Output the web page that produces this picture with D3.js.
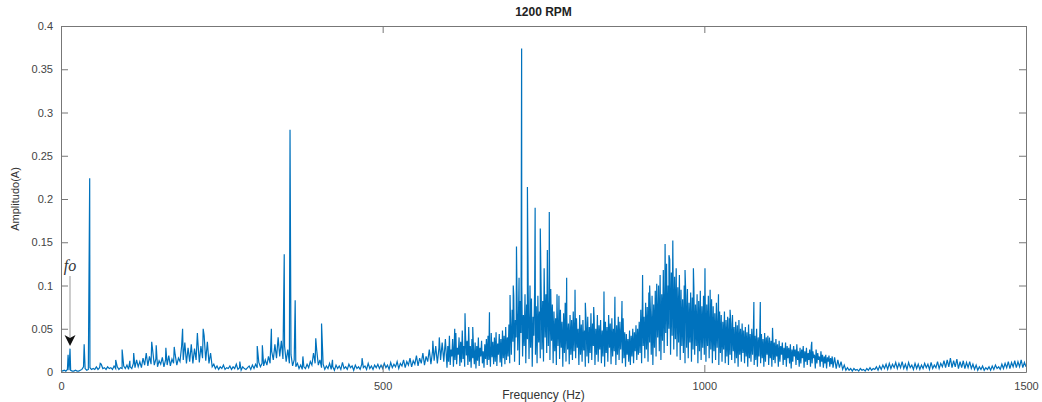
<!DOCTYPE html>
<html lang="en">
<head>
  <meta charset="UTF-8">
  <title>1200 RPM</title>
  <script src="https://d3js.org/d3.v7.min.js"></script>
  <style>
    body { margin: 0; background: #fff; }
    svg text { font-family: "Liberation Sans", Arial, Helvetica, sans-serif; }
  </style>
</head>
<body>
  <svg width="1042" height="402" id="spectrum"></svg>
  <script>
    // amplitude in mA, one array per 100 Hz block
    // coarse blocks: a value every 2.5 Hz, dense middle blocks: every 1.25 Hz
    var amp0 = [2,1,2,1,3,2,2,1,1,2,1,1,2,3,6,4,2,3,5,3,4,3,6,3,5,9,4,5,3,6,4,5,3,7,4,6,3,5,4,7]
    var amp100 = [4,8,3,6,4,10,5,14,6,12,5,16,8,22,7,18,9,25,8,15,6,13,9,17,6,14,8,19,7,15,10,20,8,16,12,30,14,34,10,28]
    var amp200 = [12,32,10,27,14,38,11,30,16,42,13,35,10,22,6,9,4,7,3,6,4,8,3,5,4,7,3,6,4,9,3,5,2,6,4,3,5,7,3,8]
    var amp300 = [4,9,5,11,6,10,7,14,8,18,10,24,14,32,16,40,18,36,15,30,12,26,10,20,7,14,6,10,4,8,3,6,4,9,5,12,8,22,10,25]
    var amp400 = [8,14,5,9,3,7,4,10,3,6,2,8,4,7,3,11,4,6,3,9,5,7,2,8,4,6,3,9,5,7,3,10,4,7,3,8,5,9,4,8]
    var amp500 = [4,10,5,8,3,11,5,9,6,12,4,10,7,14,5,12,8,16,6,13,9,19,7,16,10,22,8,18,12,26,9,24,13,30,10,28,14,34,12,38]
    var amp600 = [5,30,12,42,8,26,18,38,6,33, 14,45,9,28,20,40,7,35,11,48, 15,30,6,44,19,36,8,52,12,30, 5,38,16,26,9,34,4,30,13,40,
      7,28,18,36,10,24,5,32,15,38, 8,42,14,30,6,45,17,35,9,40, 12,46,7,33,20,44,11,38,6,48, 16,42,9,52,14,40,18,55,10,58]
    var amp700 = [20,72,35,88,12,60,40,95,25,70, 8,82,45,100,18,66,30,90,10,78, 38,92,15,70,28,85,6,64,42,96, 20,76,10,88,34,70,16,98,26,82,
      12,105,40,90,22,112,30,85,14,96, 36,78,10,70,24,62,8,74,30,66, 15,72,28,58,6,68,22,80,12,62, 26,56,9,66,20,60,14,70,24,64]
    var amp800 = [16,62,28,50,8,66,20,55,12,60, 25,48,6,58,18,64,10,52,22,68, 14,56,30,62,8,50,20,66,12,54, 26,60,10,48,18,64,6,58,22,52,
      12,66,28,56,9,62,18,50,24,60, 8,54,20,64,14,58,26,52,10,62, 16,46,6,44,20,38,12,48,8,42, 18,50,10,46,24,54,14,50,20,58]
    var amp900 = [22,72,10,86,30,64,16,80,26,75, 12,92,34,70,20,88,8,78,28,94, 18,84,40,100,24,112,14,90,36,118, 22,108,45,125,30,100,50,130,20,115,
      42,128,26,110,38,120,18,98,34,112, 14,95,30,84,22,100,10,88,28,96, 16,80,34,92,12,86,26,98,20,78, 30,90,10,82,24,94,14,76,28,88]
    var amp1000 = [20,92,12,78,30,88,16,72,26,84, 10,76,24,68,14,80,28,62,8,70, 22,66,12,58,26,70,10,60,18,64, 8,62,20,56,14,66,24,52,10,58,
      16,54,6,60,20,50,12,56,22,48, 10,52,18,46,6,55,16,44,12,50, 20,48,8,42,14,50,6,40,18,46, 10,44,16,38,6,45,12,40,20,42]
    var amp1100 = [8,40,16,36,6,46,14,34,10,38, 18,32,6,36,12,30,20,34,8,28, 14,34,6,30,16,28,10,32,4,26, 12,30,18,26,8,32,14,24,6,28,
      10,26,16,30,5,24,12,28,8,22, 14,26,6,30,10,24,16,20,4,26, 10,22,14,18,6,24,12,20,5,18, 10,20,4,17,12,19,6,16,9,18]
    var amp1200 = [5,17,4,14,5,12,3,8,2,5,2,4,1,4,2,3,1,4,2,3,1,4,2,5,2,4,3,6,2,7,3,8,4,9,3,10,4,9,5,11]
    var amp1300 = [4,10,5,12,4,9,3,11,5,8,3,10,4,9,3,8,4,10,5,9,3,11,4,8,5,12,4,10,6,13,5,14,6,16,5,13,6,15,4,12]
    var amp1400 = [5,13,4,11,5,12,4,9,3,8,2,6,3,7,2,5,3,6,2,7,3,8,4,6,3,9,4,10,5,12,4,11,6,13,5,12,6,14,5,11,6]

    // narrow lines: [frequency Hz, amplitude mA]
    var spikes = [[11,20],[14,27],[36,32],[44.6,224],[61,10],[85,14],[95,26],[107,13],[113,22],[141,35],[148,31],[163,28],
      [176,29],[189,50],[212,45],[221,50],[278,12],[305,30],[313,31],[327,50],[347,136],[356,280],[364,83],[376,18],
      [396,39],[405,56],[422,14],[468,16],[578,36],[588,40],[612,50],[628,68],[640,52],[666,69],[698,89],[703,100],
      [708,145],[712,109],[716,374],[725,214],[729,100],[737,190],[745,166],[751,120],[756,141],[759,185],[771,90],
      [774,88],[786,109],[799,95],[815,80],[828,75],[844,93],[861,87],[872,82],[904,112],[915,100],[926,102],[939,148],
      [945,135],[951,152],[970,118],[983,120],[1001,120],[1009,95],[1022,90],[1040,72],[1077,81],[1087,81],[1106,51],[1167,35]]

    var blocks = [amp0, amp100, amp200, amp300, amp400, amp500, amp600, amp700, amp800, amp900, amp1000, amp1100, amp1200, amp1300, amp1400]
    var blockStep = [2.5, 2.5, 2.5, 2.5, 2.5, 2.5, 1.25, 1.25, 1.25, 1.25, 1.25, 1.25, 2.5, 2.5, 2.5]
    var xTicks = [0, 500, 1000, 1500]
    var yTicks = [0, 0.05, 0.1, 0.15, 0.2, 0.25, 0.3, 0.35, 0.4]

    var data = []
    blocks.forEach(function (arr, b) {
      arr.forEach(function (v, i) { data.push([b * 100 + i * blockStep[b], v / 1000]) })
    })
    spikes.forEach(function (s) { data.push([s[0], s[1] / 1000]) })
    data.sort(function (a, b) { return a[0] - b[0] })

    var svg = d3.select("#spectrum")
    var mLeft = 61, mRight = 1026, mTop = 26, mBottom = 372
    var width = mRight - mLeft, height = mBottom - mTop

    var xScale = d3.scaleLinear().domain([0, 1500]).range([0, width])
    var yScale = d3.scaleLinear().domain([0, 0.4]).range([height, 0])

    var g = svg.append("g").attr("transform", "translate(" + mLeft + "," + mTop + ")")

    var line = d3.line()
      .x(function (d) { return xScale(d[0]) })
      .y(function (d) { return yScale(d[1]) })

    g.append("path")
      .datum(data)
      .attr("d", line)
      .style("fill", "none")
      .style("stroke", "#0072BD")
      .style("stroke-width", 1.2)

    function fmt(d) { return String(+d.toFixed(2)) }

    // axes, ticks pointing inwards like matlab
    var xb = g.append("g").attr("transform", "translate(0," + height + ")")
      .call(d3.axisBottom(xScale).tickValues(xTicks).tickSizeInner(-7).tickSizeOuter(0).tickPadding(8).tickFormat(fmt))
    var xt = g.append("g")
      .call(d3.axisTop(xScale).tickValues(xTicks).tickSizeInner(-7).tickSizeOuter(0).tickFormat(""))
    var yl = g.append("g")
      .call(d3.axisLeft(yScale).tickValues(yTicks).tickSizeInner(-7).tickSizeOuter(0).tickPadding(8).tickFormat(fmt))
    var yr = g.append("g").attr("transform", "translate(" + width + ",0)")
      .call(d3.axisRight(yScale).tickValues(yTicks).tickSizeInner(-7).tickSizeOuter(0).tickFormat(""))

    g.selectAll(".domain, .tick line").style("stroke", "#777").style("stroke-width", 1)
    g.selectAll(".tick text").style("fill", "#444").style("font-size", "11px")
    xb.selectAll(".tick text").attr("dy", "0.9em")

    // title
    svg.append("text")
      .attr("x", mLeft + width / 2)
      .attr("y", 16)
      .attr("text-anchor", "middle")
      .style("font-size", "12px")
      .style("font-weight", "bold")
      .style("fill", "#222")
      .text("1200 RPM")

    // X label
    svg.append("text")
      .attr("x", mLeft + width / 2)
      .attr("y", 399)
      .attr("text-anchor", "middle")
      .style("font-size", "12px")
      .style("fill", "#333")
      .text("Frequency (Hz)")

    // Y label
    svg.append("text")
      .attr("text-anchor", "middle")
      .attr("transform", "translate(19," + (mTop + height / 2) + ")rotate(-90)")
      .style("font-size", "11px")
      .style("fill", "#333")
      .text("Amplitudo(A)")

    // fo annotation
    var foX = mLeft + xScale(14)
    svg.append("text")
      .attr("x", foX)
      .attr("y", 271)
      .attr("text-anchor", "middle")
      .style("font-family", "'Liberation Serif', 'DejaVu Serif', serif")
      .style("font-style", "italic")
      .style("font-size", "16px")
      .style("fill", "#333")
      .text("fo")

    svg.append("line")
      .attr("x1", foX).attr("x2", foX)
      .attr("y1", 276).attr("y2", 340)
      .style("stroke", "#999")
      .style("stroke-width", 1)

    svg.append("path")
      .attr("d", "M" + (foX - 5.5) + ",335 L" + foX + ",346 L" + (foX + 5.5) + ",335 L" + foX + ",338 Z")
      .style("fill", "#111")
  </script>
</body>
</html>
